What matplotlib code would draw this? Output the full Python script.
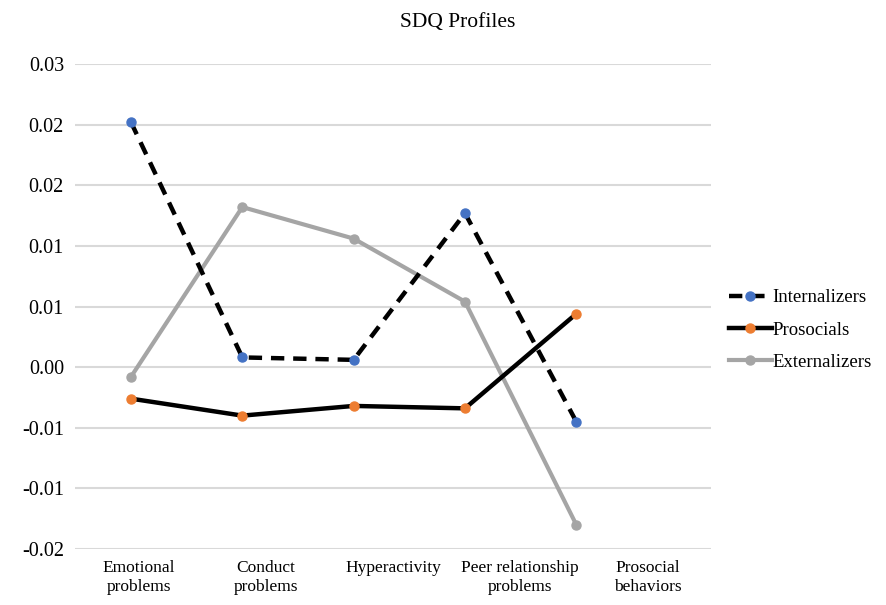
import numpy as np
import matplotlib.pyplot as plt

plt.rcParams['font.family'] = ['Liberation Serif', 'DejaVu Serif']

categories = ["Emotional\nproblems", "Conduct\nproblems", "Hyperactivity",
              "Peer relationship\nproblems", "Prosocial\nbehaviors"]
internalizers = [0.0202, 0.0008, 0.0006, 0.0127, -0.0045]
prosocials = [-0.0026, -0.0040, -0.0032, -0.0034, 0.0044]
externalizers = [-0.0008, 0.0132, 0.0106, 0.0054, -0.0130]
yticks = [-0.015, -0.01, -0.005, 0.0, 0.005, 0.01, 0.015, 0.02, 0.025]

fig = plt.figure(figsize=(8.86, 6.05), dpi=100)
ax = fig.add_axes([75/886, 1-549/605, (711-75)/886, (549-64)/605])

x = np.arange(len(categories))
ax.plot(x, internalizers, color='black', lw=3.2, ls=(0, (3, 2)),
        marker='o', ms=6.5, mfc='#4472C4', mec='#4472C4', label='Internalizers', zorder=3)
ax.plot(x, prosocials, color='black', lw=3.2,
        marker='o', ms=6.5, mfc='#ED7D31', mec='#ED7D31', label='Prosocials', zorder=3)
ax.plot(x, externalizers, color='#A5A5A5', lw=3.0,
        marker='o', ms=6.5, mfc='#A5A5A5', mec='#A5A5A5', label='Externalizers', zorder=2)

# the category labels sit on a wider grid than the points
xmin, xmax = -0.503, 5.21
ax.set_xlim(xmin, xmax)
w = (xmax - xmin) / len(categories)
ax.set_xticks([xmin + (i + 0.5) * w for i in range(len(categories))])
ax.set_xticklabels(categories, fontsize=12.5)

ax.set_ylim(-0.015, 0.025)
ax.set_yticks(yticks)
ax.set_yticklabels(["%.2f" % round(v + 1e-9 if v >= 0 else v - 1e-9, 2) for v in yticks], fontsize=14.5)
ax.yaxis.grid(True, color='#D9D9D9', lw=1.5)
ax.set_axisbelow(True)
ax.tick_params(length=0, pad=8)
for s in ax.spines.values():
    s.set_visible(False)

fig.text(458/886, 1-22/605, "SDQ Profiles", fontsize=15.5, ha='center', va='center')
fig.legend(loc='center left', bbox_to_anchor=(712/886, 1-330/605), frameon=False,
           fontsize=13.5, handlelength=2.3, handletextpad=0.0, labelspacing=0.8)

fig.savefig("out.png", dpi=100)
